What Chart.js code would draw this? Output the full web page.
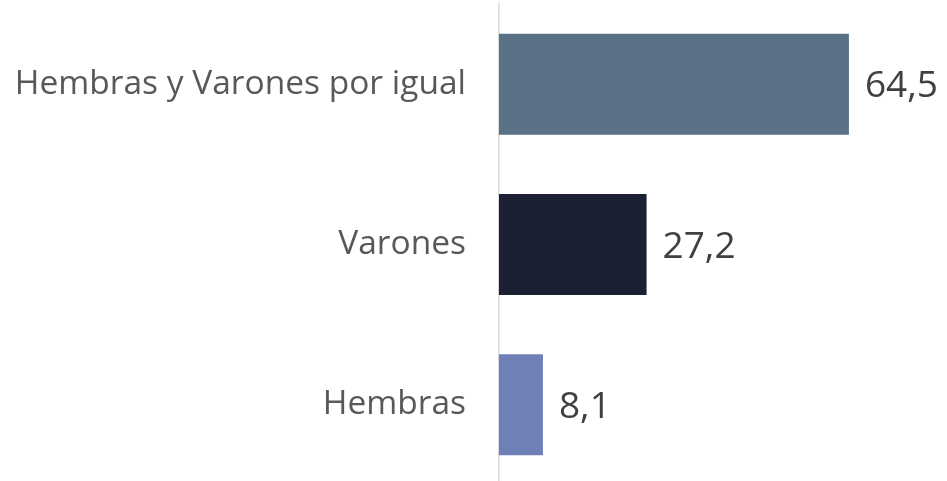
<!DOCTYPE html>
<html>
<head>
<meta charset="utf-8">
<script src="https://cdn.jsdelivr.net/npm/chart.js@4/dist/chart.umd.min.js"></script>
<style>
  html, body { margin: 0; padding: 0; background: #fff; overflow: hidden; }
  #wrap { position: relative; width: 947px; height: 485px; }
</style>
</head>
<body>
<div id="wrap"><canvas id="chart"></canvas></div>
<script>
const categories = ['Hembras y Varones por igual', 'Varones', 'Hembras'];
const values = [64.5, 27.2, 8.1];
const barColors = ['#5b7186', '#1b2032', '#6f80b7'];

// draws "64,5" style labels to the right of each bar
const valueLabels = {
    id: 'valueLabels',
    afterDatasetsDraw(chart) {
        const ctx = chart.ctx;
        const size = 37;
        ctx.save();
        ctx.font = size + 'px "Open Sans"';
        ctx.fillStyle = '#404040';
        ctx.textAlign = 'left';
        ctx.textBaseline = 'alphabetic';
        chart.getDatasetMeta(0).data.forEach((bar, i) => {
            const txt = values[i].toFixed(1).replace('.', ',');
            ctx.fillText(txt, bar.x + 16, bar.y + size * 0.357);
        });
        ctx.restore();
    }
};

new Chart(document.getElementById('chart'), {
    type: 'bar',
    data: {
        labels: categories,
        datasets: [{
            data: values,
            backgroundColor: barColors,
            barPercentage: 0.63,
            categoryPercentage: 1
        }]
    },
    options: {
        indexAxis: 'y',
        responsive: true,
        maintainAspectRatio: false,
        animation: false,
        layout: { padding: { top: 4, right: 14, bottom: 0, left: 0 } },
        plugins: { legend: { display: false }, tooltip: { enabled: false } },
        scales: {
            x: { display: false, min: 0, max: 80 },
            y: {
                grid: { display: false, drawTicks: false },
                border: { display: true, color: '#d9d9d9', width: 1.5 },
                ticks: {
                    color: '#595959',
                    font: { family: '"Open Sans"', size: 33.5 },
                    padding: 33
                },
                afterFit(scale) {
                    scale.width = 499;
                    scale.paddingTop = 0;
                    scale.paddingBottom = 0;
                }
            }
        }
    },
    plugins: [valueLabels]
});
</script>
</body>
</html>
